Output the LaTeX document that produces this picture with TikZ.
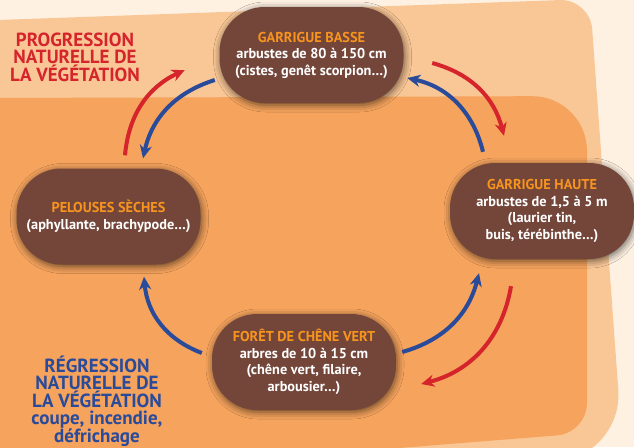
\documentclass[tikz,border=0pt]{standalone}
\usepackage{fontspec}
\setmainfont{PT Sans}
\usepackage{tikz}
\usetikzlibrary{shapes, arrows.meta, calc, shadows.blur}
\definecolor{cream}{HTML}{FEF1E2}
\definecolor{lightband}{HTML}{F9C796}
\definecolor{darkband}{HTML}{F5A35D}
\definecolor{nodebrown}{HTML}{74463A}
\definecolor{headorange}{HTML}{F7941E}
\definecolor{progred}{HTML}{D6242C}
\definecolor{regblue}{HTML}{2A4A9A}
\tikzstyle{stage} = [rectangle, rounded corners=45pt, fill=nodebrown, text=white,
    align=center, minimum width=184pt, minimum height=96pt,
    font=\fontsize{14.3}{16.5}\selectfont\bfseries,
    blur shadow={shadow xshift=1pt, shadow yshift=-2pt, shadow blur radius=7pt, shadow opacity=60}]
\tikzstyle{progress} = [draw=progred, line width=4pt,
    -{Stealth[length=13pt, width=12pt, inset=4pt]}]
\tikzstyle{regress} = [draw=regblue, line width=4pt,
    -{Stealth[length=13pt, width=12pt, inset=4pt]}]
\begin{document}
\begin{tikzpicture}[x=1pt, y=-1pt,
    cyclelabel/.style={align=center, font=\fontsize{19}{17.5}\selectfont\bfseries}
    ]
    \useasboundingbox (0,0) rectangle (634,447);
    % Background
    \fill[cream] (0,0) rectangle (634,447);
    \fill[lightband] (-2,20) [rounded corners=30pt] -- (590,-1)
          [rounded corners=65pt] -- (623,455) [sharp corners] -- (100,505) -- (-2,505) -- cycle;
    \fill[darkband] (-2,98) [rounded corners=55pt] -- (587,96)
          [rounded corners=30pt] -- (587,433) [sharp corners] -- (-2,480) -- cycle;

    % Nodes
    \node [stage] (basse) at (311.5,55) {{\color{headorange}GARRIGUE BASSE}\\
          arbustes de 80 à 150 cm\\(cistes, genêt scorpion…)};
    \node [stage] (pelouses) at (108.5,216.5) {{\color{headorange}PELOUSES SÈCHES}\\
          (aphyllante, brachypode…)};
    \node [stage] (haute) at (542,211) {{\color{headorange}GARRIGUE HAUTE}\\
          arbustes de 1,5 à 5 m\\(laurier tin,\\buis, térébinthe…)};
    \node [stage] (foret) at (304,362) {{\color{headorange}FORÊT DE CHÊNE VERT}\\
          arbres de 10 à 15 cm\\(chêne vert, filaire,\\arbousier…)};

    \node [cyclelabel, text=progred] (progression) at (75,57)
          {PROGRESSION\\NATURELLE DE\\LA VÉGÉTATION};
    \node [cyclelabel, text=regblue] (regression) at (97,401)
          {RÉGRESSION\\NATURELLE DE\\LA VÉGÉTATION\\coupe, incendie,\\défrichage};

    % Edges
    \path [progress] ([shift={(16.5,-13)}]pelouses.north) to[bend left=30] ([shift={(-34.5,15)}]basse.west);
    \path [progress] ([shift={(28.5,8)}]basse.east) to[bend left=30] ([shift={(-38,-27)}]haute.north);
    \path [progress] ([shift={(-31,27)}]haute.south) to[bend left=33] ([shift={(25,22)}]foret.east);

    \path [regress] ([shift={(-4.5,25)}]basse.west) to[bend right=30] ([shift={(34.5,-10)}]pelouses.north);
    \path [regress] ([shift={(-59,-11)}]haute.north) to[bend right=32] ([shift={(3.5,23)}]basse.east);
    \path [regress] ([shift={(-10,-9)}]foret.west) to[bend left=32] ([shift={(35.5,12)}]pelouses.south);
    \path [regress] ([shift={(6,-10)}]foret.east) to[bend right=30] ([shift={(-63,14)}]haute.south);
\end{tikzpicture}
\end{document}
